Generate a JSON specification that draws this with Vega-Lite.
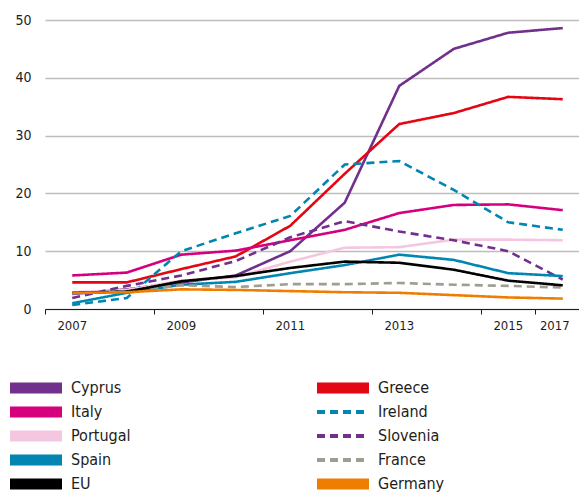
{
  "$schema": "https://vega.github.io/schema/vega-lite/v6.json",
  "width": 534,
  "height": 289,
  "autosize": {"type": "none"},
  "padding": {"left": 45, "top": 20, "right": 0, "bottom": 183},
  "background": "white",
  "config": {
    "view": {"stroke": null},
    "font": "Liberation Sans Narrow, DejaVu Sans Condensed, Liberation Sans, sans-serif",
    "axis": {"labelFont": "Liberation Sans Narrow, DejaVu Sans Condensed, Liberation Sans, sans-serif", "labelColor": "#1d1d1b", "labelFontSize": 13, "title": null},
    "legend": {"labelFont": "Liberation Sans Narrow, DejaVu Sans Condensed, Liberation Sans, sans-serif"}
  },
  "data": {
    "values": [
      {"country": "Cyprus", "year": "2007", "value": 2.6},
      {"country": "Cyprus", "year": "2008", "value": 3.4},
      {"country": "Cyprus", "year": "2009", "value": 4.6},
      {"country": "Cyprus", "year": "2010", "value": 5.8},
      {"country": "Cyprus", "year": "2011", "value": 10.0},
      {"country": "Cyprus", "year": "2012", "value": 18.4},
      {"country": "Cyprus", "year": "2013", "value": 38.6},
      {"country": "Cyprus", "year": "2014", "value": 45.0},
      {"country": "Cyprus", "year": "2015", "value": 47.8},
      {"country": "Cyprus", "year": "2017", "value": 48.6},
      {"country": "Greece", "year": "2007", "value": 4.6},
      {"country": "Greece", "year": "2008", "value": 4.6},
      {"country": "Greece", "year": "2009", "value": 6.9},
      {"country": "Greece", "year": "2010", "value": 9.1},
      {"country": "Greece", "year": "2011", "value": 14.4},
      {"country": "Greece", "year": "2012", "value": 23.4},
      {"country": "Greece", "year": "2013", "value": 32.0},
      {"country": "Greece", "year": "2014", "value": 33.9},
      {"country": "Greece", "year": "2015", "value": 36.7},
      {"country": "Greece", "year": "2017", "value": 36.3},
      {"country": "Italy", "year": "2007", "value": 5.8},
      {"country": "Italy", "year": "2008", "value": 6.3},
      {"country": "Italy", "year": "2009", "value": 9.4},
      {"country": "Italy", "year": "2010", "value": 10.1},
      {"country": "Italy", "year": "2011", "value": 11.9},
      {"country": "Italy", "year": "2012", "value": 13.7},
      {"country": "Italy", "year": "2013", "value": 16.6},
      {"country": "Italy", "year": "2014", "value": 18.0},
      {"country": "Italy", "year": "2015", "value": 18.1},
      {"country": "Italy", "year": "2017", "value": 17.1},
      {"country": "Ireland", "year": "2007", "value": 0.7},
      {"country": "Ireland", "year": "2008", "value": 1.9},
      {"country": "Ireland", "year": "2009", "value": 10.0},
      {"country": "Ireland", "year": "2010", "value": 13.1},
      {"country": "Ireland", "year": "2011", "value": 16.1},
      {"country": "Ireland", "year": "2012", "value": 25.0},
      {"country": "Ireland", "year": "2013", "value": 25.6},
      {"country": "Ireland", "year": "2014", "value": 20.6},
      {"country": "Ireland", "year": "2015", "value": 15.0},
      {"country": "Ireland", "year": "2017", "value": 13.7},
      {"country": "Portugal", "year": "2007", "value": 2.9},
      {"country": "Portugal", "year": "2008", "value": 3.3},
      {"country": "Portugal", "year": "2009", "value": 4.9},
      {"country": "Portugal", "year": "2010", "value": 5.5},
      {"country": "Portugal", "year": "2011", "value": 8.2},
      {"country": "Portugal", "year": "2012", "value": 10.6},
      {"country": "Portugal", "year": "2013", "value": 10.7},
      {"country": "Portugal", "year": "2014", "value": 12.0},
      {"country": "Portugal", "year": "2015", "value": 12.0},
      {"country": "Portugal", "year": "2017", "value": 11.9},
      {"country": "Slovenia", "year": "2007", "value": 1.9},
      {"country": "Slovenia", "year": "2008", "value": 4.0},
      {"country": "Slovenia", "year": "2009", "value": 5.8},
      {"country": "Slovenia", "year": "2010", "value": 8.3},
      {"country": "Slovenia", "year": "2011", "value": 12.4},
      {"country": "Slovenia", "year": "2012", "value": 15.2},
      {"country": "Slovenia", "year": "2013", "value": 13.4},
      {"country": "Slovenia", "year": "2014", "value": 11.9},
      {"country": "Slovenia", "year": "2015", "value": 10.0},
      {"country": "Slovenia", "year": "2017", "value": 5.1},
      {"country": "Spain", "year": "2007", "value": 1.0},
      {"country": "Spain", "year": "2008", "value": 2.8},
      {"country": "Spain", "year": "2009", "value": 4.2},
      {"country": "Spain", "year": "2010", "value": 4.7},
      {"country": "Spain", "year": "2011", "value": 6.2},
      {"country": "Spain", "year": "2012", "value": 7.6},
      {"country": "Spain", "year": "2013", "value": 9.4},
      {"country": "Spain", "year": "2014", "value": 8.5},
      {"country": "Spain", "year": "2015", "value": 6.2},
      {"country": "Spain", "year": "2017", "value": 5.7},
      {"country": "France", "year": "2007", "value": 2.7},
      {"country": "France", "year": "2008", "value": 3.1},
      {"country": "France", "year": "2009", "value": 4.1},
      {"country": "France", "year": "2010", "value": 3.8},
      {"country": "France", "year": "2011", "value": 4.3},
      {"country": "France", "year": "2012", "value": 4.3},
      {"country": "France", "year": "2013", "value": 4.5},
      {"country": "France", "year": "2014", "value": 4.2},
      {"country": "France", "year": "2015", "value": 4.0},
      {"country": "France", "year": "2017", "value": 3.7},
      {"country": "EU", "year": "2007", "value": 2.8},
      {"country": "EU", "year": "2008", "value": 3.0},
      {"country": "EU", "year": "2009", "value": 4.8},
      {"country": "EU", "year": "2010", "value": 5.7},
      {"country": "EU", "year": "2011", "value": 7.1},
      {"country": "EU", "year": "2012", "value": 8.2},
      {"country": "EU", "year": "2013", "value": 8.0},
      {"country": "EU", "year": "2014", "value": 6.8},
      {"country": "EU", "year": "2015", "value": 4.9},
      {"country": "EU", "year": "2017", "value": 4.1},
      {"country": "Germany", "year": "2007", "value": 2.8},
      {"country": "Germany", "year": "2008", "value": 2.9},
      {"country": "Germany", "year": "2009", "value": 3.4},
      {"country": "Germany", "year": "2010", "value": 3.3},
      {"country": "Germany", "year": "2011", "value": 3.1},
      {"country": "Germany", "year": "2012", "value": 2.9},
      {"country": "Germany", "year": "2013", "value": 2.8},
      {"country": "Germany", "year": "2014", "value": 2.4},
      {"country": "Germany", "year": "2015", "value": 2.0},
      {"country": "Germany", "year": "2017", "value": 1.8}
    ]
  },
  "mark": {"type": "line", "strokeWidth": 2.6, "clip": false},
  "encoding": {
    "x": {
      "field": "year",
      "type": "ordinal",
      "sort": null,
      "scale": {"type": "band", "paddingInner": 0, "paddingOuter": 0, "range": [0, 545]},
      "axis": {
        "values": ["2007", "2009", "2011", "2013", "2015", "2017"],
        "bandPosition": 0,
        "labelOffset": {"condition": {"test": "datum.value === '2017'", "value": -8}, "value": 0},
        "labelAngle": 0,
        "domainColor": "#1d1d1b",
        "domainWidth": 1,
        "tickColor": "#1d1d1b",
        "tickSize": 5,
        "labelPadding": 5,
        "grid": false
      }
    },
    "y": {
      "field": "value",
      "type": "quantitative",
      "scale": {"domain": [0, 50], "nice": false},
      "axis": {
        "values": [0, 10, 20, 30, 40, 50],
        "domain": false,
        "ticks": false,
        "labelPadding": 14,
        "labelFontSize": 14,
        "grid": true,
        "gridColor": "#bdbdbd",
        "gridWidth": 1.3
      }
    },
    "color": {
      "field": "country",
      "type": "nominal",
      "title": null,
      "scale": {
        "domain": ["Cyprus", "Italy", "Portugal", "Spain", "EU", "Greece", "Ireland", "Slovenia", "France", "Germany"],
        "range": ["#70308c", "#d6007e", "#f5c6df", "#0086b0", "#000000", "#e30613", "#0086b0", "#70308c", "#9d9d92", "#ef7d00"]
      },
      "legend": {
        "orient": "none",
        "legendX": -17,
        "legendY": 360,
        "columns": 2,
        "columnPadding": 180,
        "rowPadding": 8,
        "padding": 0,
        "symbolType": "M-5.2,0H5.2",
        "symbolSize": 100,
        "symbolStrokeWidth": 11,
        "labelFontSize": 16,
        "labelColor": "#1d1d1b",
        "labelOffset": 27,
        "labelLimit": 200,
        "encode": {
          "symbols": {
            "update": {
              "strokeJoin": {"value": "bevel"},
              "strokeWidth": {"signal": "indexof(['Ireland','Slovenia','France'], datum.value) >= 0 ? 4 : 11"},
              "strokeDash": {"signal": "indexof(['Ireland','Slovenia','France'], datum.value) >= 0 ? [13,7] : [1,0]"}
            }
          }
        }
      }
    },
    "strokeDash": {
      "field": "country",
      "type": "nominal",
      "title": null,
      "scale": {
        "domain": ["Cyprus", "Italy", "Portugal", "Spain", "EU", "Greece", "Ireland", "Slovenia", "France", "Germany"],
        "range": [[1, 0], [1, 0], [1, 0], [1, 0], [1, 0], [1, 0], [8, 5], [8, 5], [8, 5], [1, 0]]
      },
      "legend": null
    }
  }
}
